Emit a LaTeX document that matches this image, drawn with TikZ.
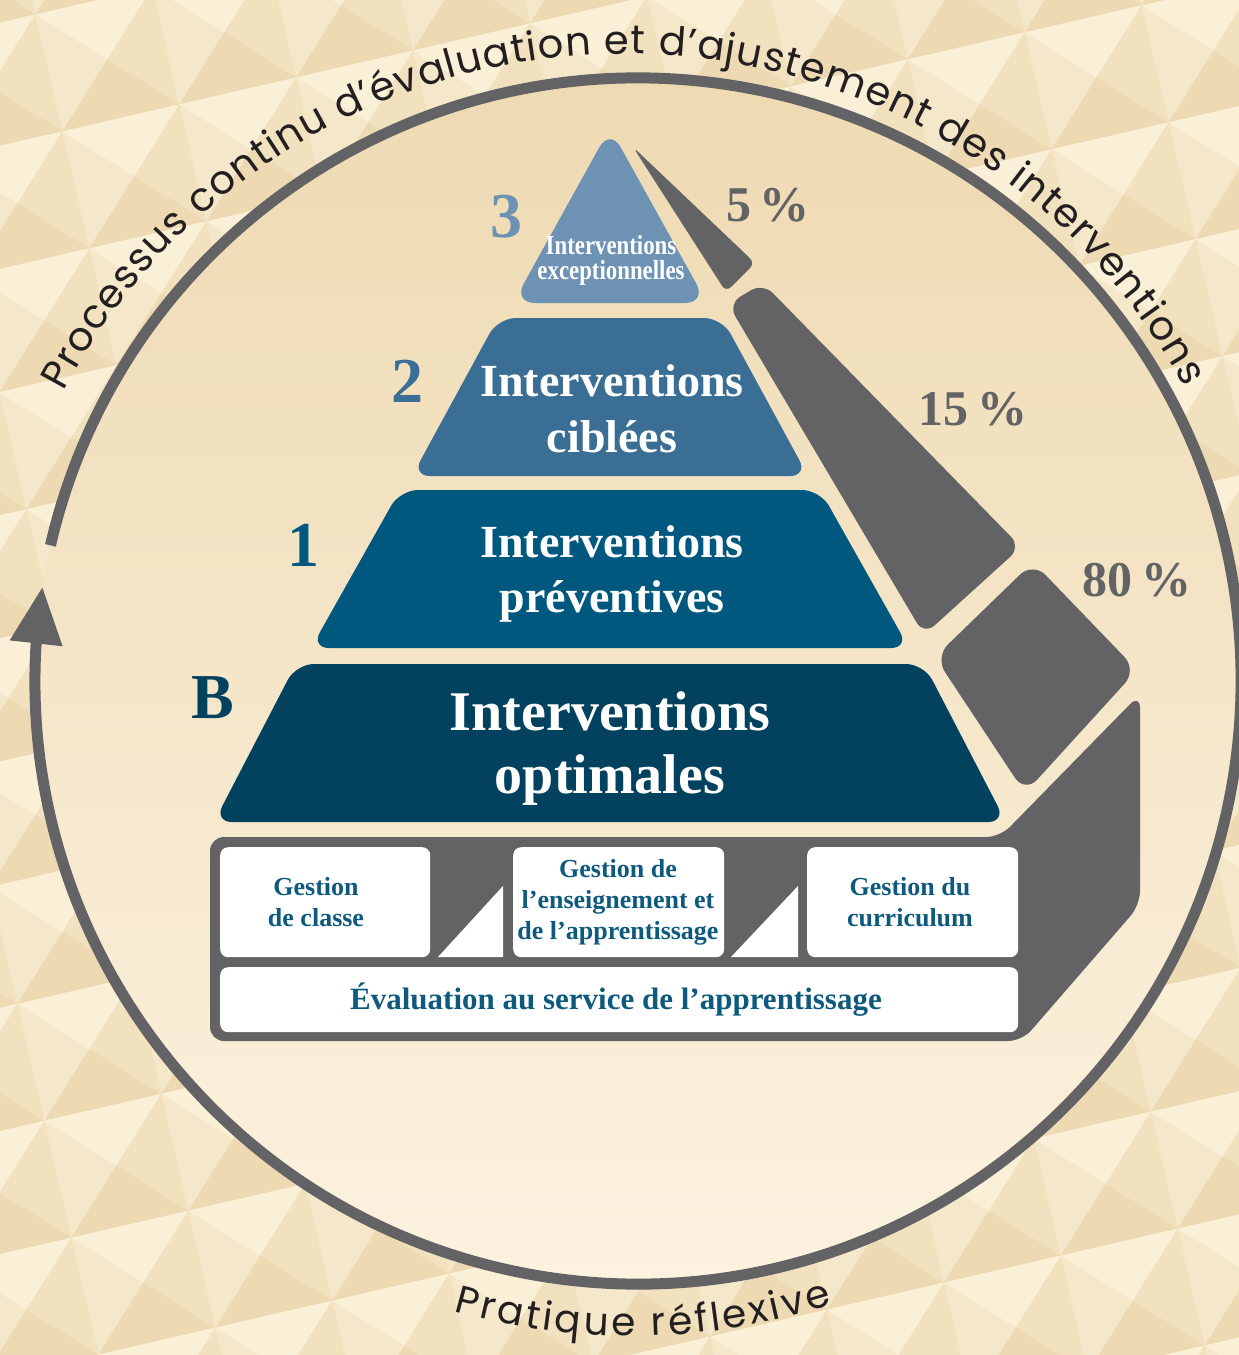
\documentclass[tikz,border=0pt]{standalone}
\usepackage{fontspec}
\setmainfont{Liberation Serif}
\newfontfamily\ringfont{Poppins}
\newfontfamily\condfont[FakeStretch=0.83]{Liberation Serif}
\usetikzlibrary{arrows.meta,bending,decorations.text}
\definecolor{tierA}{HTML}{6D92B4}
\definecolor{tierB}{HTML}{3B6E95}
\definecolor{tierC}{HTML}{00587E}
\definecolor{tierD}{HTML}{02425F}
\definecolor{band}{HTML}{636365}
\definecolor{basetext}{HTML}{0E5A7E}
\definecolor{ink}{HTML}{231F20}
\definecolor{inTop}{HTML}{EEDAB2}
\definecolor{inBot}{HTML}{FCF2E0}
\definecolor{patTop}{HTML}{FAF0D8}
\definecolor{patLeft}{HTML}{F5E7CA}
\definecolor{patRight}{HTML}{F1E1BF}
\definecolor{patBot}{HTML}{EDDAB3}
\begin{document}
\begin{tikzpicture}[x=1pt,y=-1pt,
  tiertext/.style={text=white,align=center,inner sep=0pt},
  levelnum/.style={font=\bfseries\fontsize{64}{64}\selectfont,anchor=base,inner sep=0pt},
  pct/.style={font=\bfseries\fontsize{50}{50}\selectfont,text=band,anchor=base,inner sep=0pt},
  whitebox/.style={fill=white,rounded corners=8pt,inner sep=0pt,anchor=north west},
  boxtext/.style={text=basetext,align=center,inner sep=0pt,font=\bfseries\fontsize{26}{31}\selectfont},
  ringlabel/.style={decorate,decoration={text along path,text color=ink,text align=fit to path}}
]
\useasboundingbox (0,0) rectangle (1239,1355);

% background pattern
\begin{scope}
  \clip (0,0) rectangle (1239,1355);
  \fill[patLeft] (0,0) rectangle (1239,1355);
  \begin{scope}[shift={(620,680)},rotate=13]
    \foreach \i in {-8,...,8}{
      \foreach \j in {-8,...,8}{
        \fill[patTop] ({\i*120-60},{\j*120-60}) -- ({\i*120+60},{\j*120-60}) -- ({\i*120},{\j*120}) -- cycle;
        \fill[patRight] ({\i*120+60},{\j*120-60}) -- ({\i*120+60},{\j*120+60}) -- ({\i*120},{\j*120}) -- cycle;
        \fill[patBot] ({\i*120+60},{\j*120+60}) -- ({\i*120-60},{\j*120+60}) -- ({\i*120},{\j*120}) -- cycle;
      }
    }
  \end{scope}
\end{scope}

% inner disc
\shade[top color=inTop,bottom color=inBot] (638,681) circle[radius=603];

% ring with arrow
\draw[band,line width=11pt,-{Triangle[length=57pt,width=50pt]}]
  (638,681) ++(-167:603) arc[start angle=-167,end angle=189,radius=603];

% ring texts
\path[ringlabel,decoration={text={|\ringfont\fontsize{40}{40}\selectfont|Processus continu d’évaluation et d’ajustement des interventions}}]
  (625,690) ++(-152:636) arc[start angle=-152,end angle=-28.5,radius=636];
\path[ringlabel,decoration={text={|\ringfont\fontsize{39}{39}\selectfont|Pratique réflexive}}]
  (632,688) ++(106:648) arc[start angle=106,end angle=72,radius=648];

% pyramid tiers
\fill[tierA,rounded corners=22pt] (610,128) -- (707,303) -- (513,303) -- cycle;
\fill[tierB,rounded corners=18pt] (498,318) -- (722,318) -- (808,476) -- (412,476) -- cycle;
\fill[tierC,rounded corners=18pt] (400,490) -- (820,490) -- (909,648) -- (311,648) -- cycle;
\fill[tierD,rounded corners=18pt] (296,664) -- (924,664) -- (1006,822) -- (214,822) -- cycle;

% grey bands
\fill[band,rounded corners=7pt] (633,147) -- (755,263) -- (726,292) -- cycle;
\fill[band,rounded corners=14pt] (728,304) -- (763,283) -- (1021,547) -- (924,635) -- cycle;
\fill[band,rounded corners=18pt] (935,657) -- (1033,562) -- (1137,670) -- (1025,793) -- cycle;
\fill[band,rounded corners=14pt] (210,837) -- (1000,837) -- (1140,694) -- (1140,905) -- (1022,1041) -- (210,1041) -- cycle;

% tier texts
\node[tiertext,font=\condfont\bfseries\fontsize{27.5}{25}\selectfont] (t3) at (611,260.5) {Interventions\\exceptionnelles};
\node[tiertext,font=\bfseries\fontsize{46}{56}\selectfont] (t2) at (612,409) {Interventions\\ciblées};
\node[tiertext,font=\bfseries\fontsize{46}{55}\selectfont] (t1) at (612,574) {Interventions\\préventives};
\node[tiertext,font=\bfseries\fontsize{56}{63}\selectfont] (tB) at (610,749) {Interventions\\optimales};

% level numbers
\node[levelnum,text=tierA] (n3) at (506,237) {3};
\node[levelnum,text=tierB] (n2) at (407,402) {2};
\node[levelnum,text=tierC] (n1) at (303,566) {1};
\node[levelnum,text=tierD] (nB) at (213,718) {B};

% percentages
\node[pct] (p5) at (768,221) {5\,\%};
\node[pct] (p15) at (973,425) {15\,\%};
\node[pct] (p80) at (1137,596) {80\,\%};

% base boxes
\node[whitebox,minimum width=210pt,minimum height=110pt] (b1) at (220,847) {};
\node[whitebox,minimum width=211pt,minimum height=110pt] (b2) at (513,847) {};
\node[whitebox,minimum width=211pt,minimum height=110pt] (b3) at (807,847) {};
\node[whitebox,minimum width=798pt,minimum height=65pt] (b4) at (220,967) {};
\fill[white] (438,957) -- (503,957) -- (503,886) -- cycle;
\fill[white] (731,957) -- (798,957) -- (798,886) -- cycle;

\node[boxtext] (g1) at (316,902) {Gestion\\de classe};
\node[boxtext] (g2) at (618,902) {Gestion de\\l’enseignement et\\de l’apprentissage};
\node[boxtext] (g3) at (910,902) {Gestion du\\curriculum};
\node[boxtext,font=\bfseries\fontsize{31}{31}\selectfont] (ev) at (616,1000) {Évaluation au service de l’apprentissage};
\end{tikzpicture}
\end{document}
